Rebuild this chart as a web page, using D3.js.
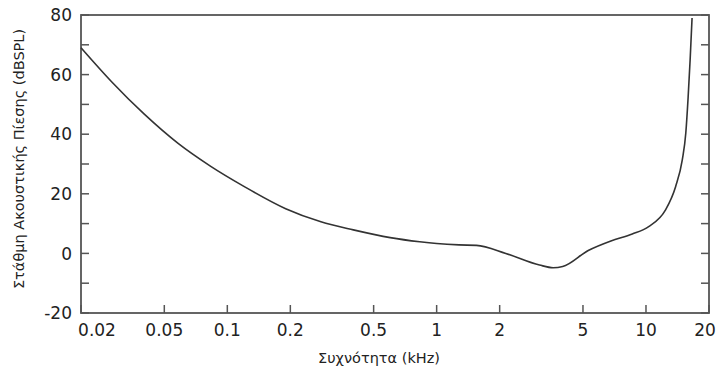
<!DOCTYPE html>
<html><head><meta charset="utf-8">
<script src="https://cdn.jsdelivr.net/npm/d3@7"></script>
<style>body{margin:0;background:#fff}svg{display:block}text{font-family:"DejaVu Sans",Verdana,sans-serif;fill:#222}</style>
</head><body><svg id="c" width="717" height="379"></svg>
<script>
const freqKHz = [0.02, 0.028, 0.04, 0.058, 0.083, 0.12, 0.19, 0.28, 0.4, 0.6, 0.83, 1.0, 1.28, 1.55, 2.14, 3.1, 3.6, 4.0, 5.3, 6.8, 8.6, 10.3, 12.4, 13.85, 14.9, 15.5, 15.9, 16.25, 16.6];
const levelDb = [69.0, 57.6, 46.8, 37.0, 29.3, 22.5, 15.0, 10.6, 7.9, 5.3, 3.9, 3.3, 2.85, 2.7, 0.0, -3.9, -4.8, -4.4, 1.0, 4.2, 6.5, 9.0, 14.6, 22.4, 31.3, 40.5, 52.5, 64.9, 79.0];
const xTicks = [0.02, 0.05, 0.1, 0.2, 0.5, 1, 2, 5, 10, 20];
const xTickLabels = ["0.02", "0.05", "0.1", "0.2", "0.5", "1", "2", "5", "10", "20"];
const yTicks = [-20, 0, 20, 40, 60, 80];
const yMinorTicks = [-10, 10, 30, 50, 70];
const xTitle = "Συχνότητα (kHz)";
const yTitle = "Στάθμη Ακουστικής Πίεσης (dBSPL)";

const svg = d3.select("#c");
const L = 81, R = 709, T = 15, B = 313;
const x = d3.scaleLog().domain([0.02, 20]).range([L, R]);
const y = d3.scaleLinear().domain([-20, 80]).range([B, T]);
const frame = "#555";

const g = svg.append("g");
yTicks.concat(yMinorTicks).forEach(v => {
  g.append("line").attr("x1", L).attr("x2", L + 8).attr("y1", y(v)).attr("y2", y(v)).attr("stroke", frame).attr("stroke-width", 1.5);
  g.append("line").attr("x1", R).attr("x2", R - 8).attr("y1", y(v)).attr("y2", y(v)).attr("stroke", frame).attr("stroke-width", 1.5);
});
xTicks.forEach(v => {
  g.append("line").attr("x1", x(v)).attr("x2", x(v)).attr("y1", B).attr("y2", B - 8).attr("stroke", frame).attr("stroke-width", 1.5);
});
yTicks.forEach(v => {
  svg.append("text").attr("x", L - 9).attr("y", y(v)).attr("dy", "0.36em").attr("text-anchor", "end").attr("font-size", 17).text(v);
});
xTicks.forEach((v, i) => {
  const last = i === xTicks.length - 1;
  svg.append("text")
    .attr("x", i === 0 ? x(v) + 16 : (last ? x(v) - 4 : x(v)))
    .attr("y", 330).attr("dy", "0.36em").attr("text-anchor", "middle").attr("font-size", 17).text(xTickLabels[i]);
});
svg.append("rect").attr("x", L).attr("y", T).attr("width", R - L).attr("height", B - T).attr("fill", "none").attr("stroke", frame).attr("stroke-width", 1.8);

const line = d3.line().x((d, i) => x(freqKHz[i])).y(d => y(d)).curve(d3.curveMonotoneX);
svg.append("path").attr("d", line(levelDb)).attr("fill", "none").attr("stroke", "#333").attr("stroke-width", 1.6);

svg.append("text").attr("x", 379).attr("y", 358).attr("dy", "0.36em").attr("text-anchor", "middle").attr("font-size", 14.5).text(xTitle);
svg.append("text").attr("transform", "translate(19,159) rotate(-90)").attr("dy", "0.36em").attr("text-anchor", "middle").attr("font-size", 14.5).text(yTitle);
</script></body></html>
